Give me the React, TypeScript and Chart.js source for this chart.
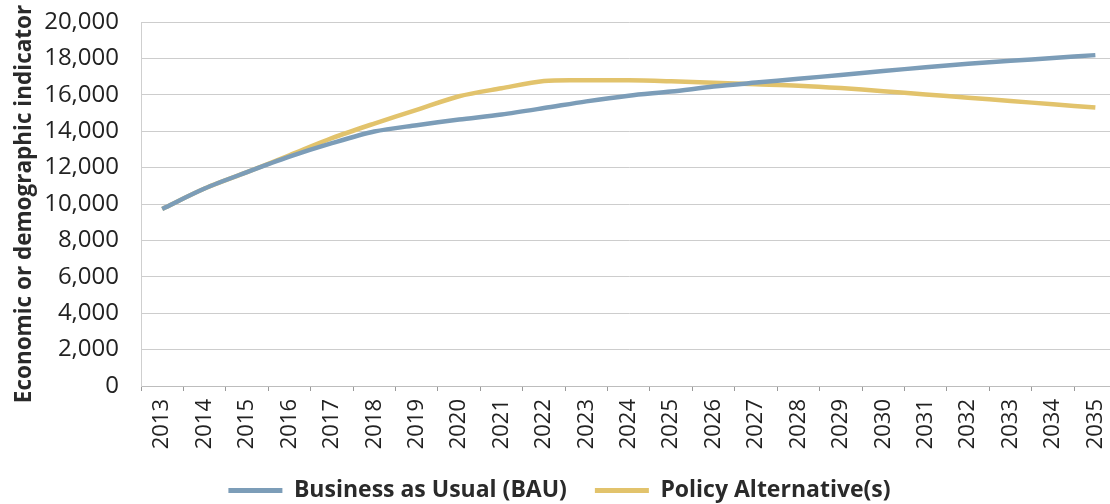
import React, { useEffect, useRef } from "react";
import { Chart, registerables } from "chart.js";

Chart.register(...registerables);

const years = [
  "2013", "2014", "2015", "2016", "2017", "2018", "2019", "2020", "2021", "2022", "2023", "2024",
  "2025", "2026", "2027", "2028", "2029", "2030", "2031", "2032", "2033", "2034", "2035",
];

const bauValues = [
  9730, 10850, 11750, 12600, 13340, 13980, 14330, 14640, 14920, 15270, 15640, 15950,
  16180, 16450, 16670, 16880, 17090, 17310, 17510, 17710, 17870, 18020, 18180,
];

const policyValues = [
  9730, 10850, 11750, 12680, 13620, 14420, 15170, 15920, 16360, 16760, 16800, 16800,
  16740, 16660, 16580, 16500, 16370, 16200, 16020, 15840, 15660, 15480, 15300,
];

const seriesNames = ["Business as Usual (BAU)", "Policy Alternative(s)"];
const yAxisTitle = "Economic or demographic indicator";
const yMin = 0;
const yMax = 20000;
const yStep = 2000;

const FONT = "'Open Sans', 'DejaVu Sans', sans-serif";
const BLUE = "#7c9db8";
const GOLD = "#e2c36c";

export default function App() {
  const ref = useRef<HTMLCanvasElement | null>(null);

  useEffect(() => {
    if (!ref.current) return;
    const chart = new Chart(ref.current, {
      type: "line",
      data: {
        labels: years,
        datasets: [
          {
            label: seriesNames[0],
            data: bauValues,
            borderColor: BLUE,
            backgroundColor: BLUE,
            borderWidth: 4.5,
            pointRadius: 0,
            tension: 0.3,
          },
          {
            label: seriesNames[1],
            data: policyValues,
            borderColor: GOLD,
            backgroundColor: GOLD,
            borderWidth: 4.5,
            pointRadius: 0,
            tension: 0.3,
          },
        ],
      },
      options: {
        animation: false,
        responsive: false,
        maintainAspectRatio: false,
        layout: { padding: { top: 22, right: 11, left: 0, bottom: 0 } },
        plugins: {
          tooltip: { enabled: false },
          legend: {
            position: "bottom",
            labels: {
              boxWidth: 54,
              boxHeight: 5,
              padding: 28,
              color: "#2a2a2a",
              font: { family: FONT, size: 23, weight: "bold" },
              generateLabels: (c: any) =>
                Chart.defaults.plugins.legend.labels
                  .generateLabels(c)
                  .map((it: any) => ({ ...it, lineWidth: 0 })),
            },
          },
        },
        scales: {
          x: {
            offset: true,
            grid: {
              display: true,
              drawOnChartArea: false,
              drawTicks: true,
              tickLength: 5,
              offset: true,
              color: "#9a9a9a",
            },
            border: { display: true, color: "#bdbdbd" },
            ticks: {
              autoSkip: false,
              minRotation: 90,
              maxRotation: 90,
              padding: 8,
              color: "#222",
              font: { family: FONT, size: 22 },
            },
            afterFit: (s: any) => {
              s.height = 65;
            },
          },
          y: {
            min: yMin,
            max: yMax,
            ticks: {
              stepSize: yStep,
              padding: 2,
              color: "#222",
              font: { family: FONT, size: 24 },
              callback: (v: any) => Number(v).toLocaleString("en-US"),
            },
            grid: {
              color: "#cdcdcd",
              drawTicks: true,
              tickLength: 20,
              tickColor: "rgba(0,0,0,0)",
            },
            border: { display: true, color: "#cfcfcf" },
            title: {
              display: true,
              text: yAxisTitle,
              color: "#2a2a2a",
              font: { family: FONT, size: 22.5, weight: "bold" },
              padding: { top: 11, bottom: 0 },
            },
            afterFit: (s: any) => {
              s.width = 141;
            },
          },
        },
      },
    });
    return () => chart.destroy();
  }, []);

  return (
    <div
      style={{
        position: "fixed",
        left: 0,
        top: 0,
        width: 1110,
        height: 504,
        overflow: "hidden",
        background: "#fff",
      }}
    >
      <canvas ref={ref} width={1130} height={512} style={{ display: "block" }} />
    </div>
  );
}
